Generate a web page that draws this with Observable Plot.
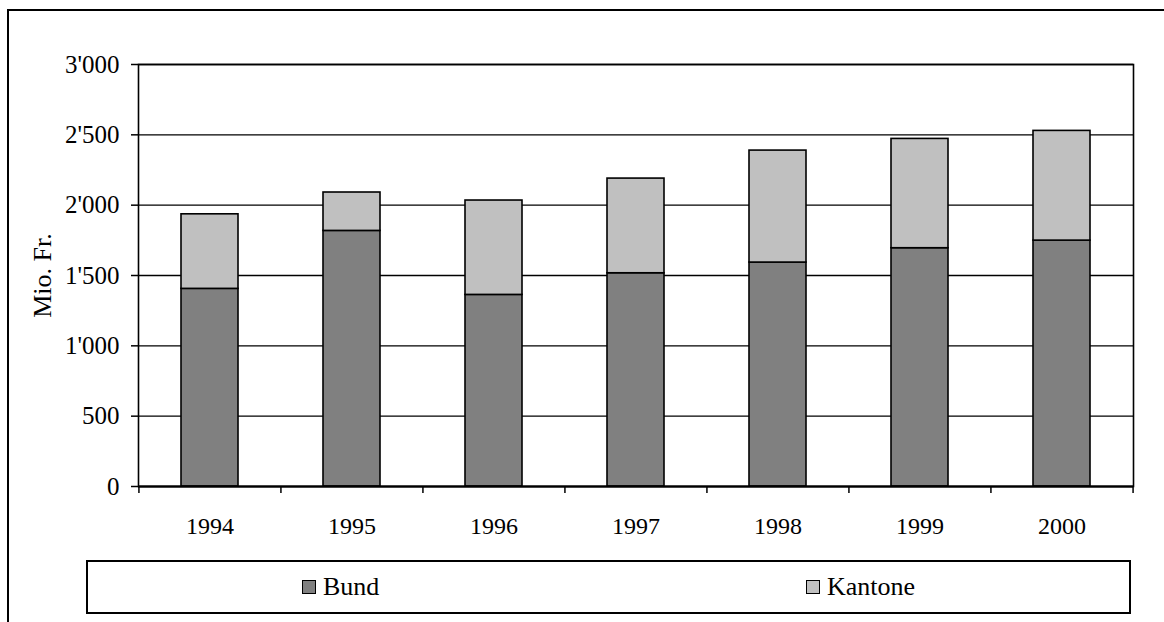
<!DOCTYPE html>
<html>
<head>
<meta charset="utf-8">
<script src="https://cdn.jsdelivr.net/npm/d3@7"></script>
<script src="https://cdn.jsdelivr.net/npm/@observablehq/plot@0.6"></script>
<style>
  html, body { margin: 0; padding: 0; background: #fff; }
  #wrap { position: relative; width: 1164px; height: 622px; overflow: hidden; background: #fff;
          font-family: "Liberation Serif", "Times New Roman", serif; }
  #outer { position: absolute; left: 7px; top: 9px; width: 1400px; height: 900px;
           border-left: 2px solid #000; border-top: 2px solid #000; }
  #chart { position: absolute; left: 0; top: 0; }
  #legend { position: absolute; left: 86px; top: 560px; width: 1041px; height: 50px;
            border: 2px solid #000; background: #fff; }
  .item { position: absolute; top: 0; height: 50px; display: flex; align-items: center;
          font-family: "Liberation Serif", "Times New Roman", serif; font-size: 26px; color: #000; }
  .sw { width: 12px; height: 12px; border: 1.5px solid #000; margin-right: 7px; }
</style>
</head>
<body>
<div id="wrap">
  <div id="outer"></div>
  <div id="chart"></div>
  <div id="legend"></div>
</div>
<script>
const years = ["1994", "1995", "1996", "1997", "1998", "1999", "2000"];
const bund = [1405, 1817, 1362, 1516, 1592, 1694, 1748];
const kantone = [530, 273, 671, 673, 796, 777, 780];
const seriesNames = ["Bund", "Kantone"];
const seriesColors = ["#808080", "#c0c0c0"];
const yTicks = [0, 500, 1000, 1500, 2000, 2500, 3000];
const yLabel = "Mio. Fr.";

const rows = [];
years.forEach((y, i) => rows.push({year: y, series: "Bund", value: bund[i]}));
years.forEach((y, i) => rows.push({year: y, series: "Kantone", value: kantone[i]}));

const loc = d3.formatLocale({decimal: ".", thousands: "'", grouping: [3], currency: ["", ""]});
const fmt = loc.format(",");

const W = 1164, H = 560, ML = 138, MR = 31, MT = 64, MB = 74;
const step = (W - ML - MR) / years.length;
const FONT = "'Liberation Serif', 'Times New Roman', serif";

const plot = Plot.plot({
  width: W, height: H,
  marginLeft: ML, marginRight: MR, marginTop: MT, marginBottom: MB,
  style: {background: "transparent", fontFamily: FONT, fontSize: "25px", color: "#000"},
  x: {domain: years, paddingInner: 0.6, paddingOuter: 0.3, label: null},
  y: {domain: [0, 3000], label: null},
  color: {domain: seriesNames, range: seriesColors},
  marks: [
    Plot.gridY(yTicks, {stroke: "#000", strokeOpacity: 1, strokeWidth: 1.4}),
    Plot.barY(rows, {x: "year", y: "value", fill: "series", stroke: "#000", strokeWidth: 1.6}),
    Plot.frame({stroke: "#000", strokeWidth: 1.6}),
    Plot.ruleY([0], {stroke: "#000", strokeWidth: 2.2}),
    Plot.axisY(yTicks, {tickSize: 7, tickPadding: 12, tickFormat: fmt, label: null, fontSize: 25, fontFamily: FONT, stroke: "#000", strokeWidth: 1.5}),
    Plot.axisX({tickSize: 0, tickPadding: 30, label: null, fontSize: 24, fontFamily: FONT}),
    Plot.axisX(years, {tickSize: 7, tickFormat: null, label: null, dx: -step / 2, stroke: "#000", strokeWidth: 1.5}),
    Plot.axisX([years[years.length - 1]], {tickSize: 7, tickFormat: null, label: null, dx: step / 2, stroke: "#000", strokeWidth: 1.5}),
    Plot.text([yLabel], {frameAnchor: "left", textAnchor: "middle", lineAnchor: "middle", dx: -96, rotate: -90, fontSize: 26, fontFamily: FONT, fill: "#000"})
  ]
});
document.getElementById("chart").appendChild(plot);

const legend = document.getElementById("legend");
const legendX = [214, 718];
seriesNames.forEach((name, i) => {
  const it = document.createElement("div");
  it.className = "item";
  it.style.left = legendX[i] + "px";
  const sw = document.createElement("div");
  sw.className = "sw";
  sw.style.background = seriesColors[i];
  it.appendChild(sw);
  const t = document.createElement("span");
  t.textContent = name;
  it.appendChild(t);
  legend.appendChild(it);
});
</script>
</body>
</html>
